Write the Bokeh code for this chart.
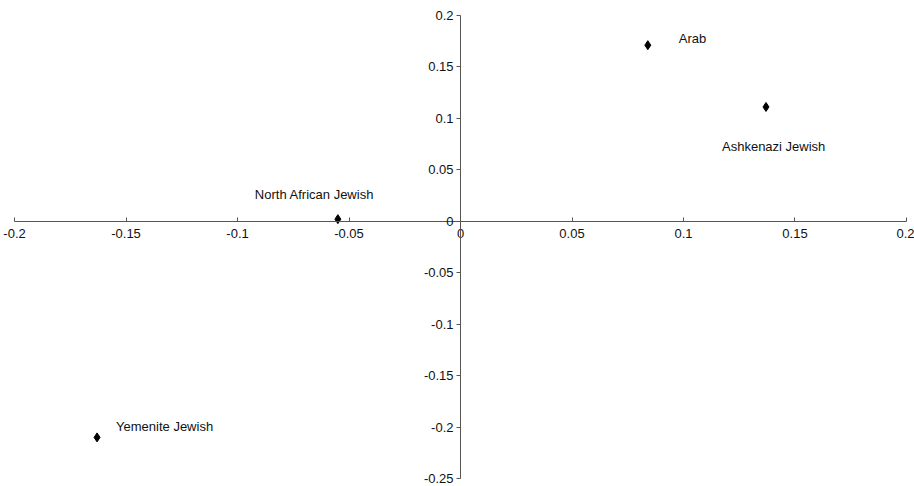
from bokeh.plotting import figure
from bokeh.models import LinearAxis, FixedTicker, ColumnDataSource, Range1d
from bokeh.embed import file_html
from bokeh.resources import INLINE
from bokeh.core.properties import value

# ---- data ----
groups = ["Arab", "Ashkenazi Jewish", "North African Jewish", "Yemenite Jewish"]
pc1 = [0.084, 0.137, -0.055, -0.163]
pc2 = [0.171, 0.111, 0.002, -0.210]

x_ticks = [-0.2, -0.15, -0.1, -0.05, 0, 0.05, 0.1, 0.15, 0.2]
x_tick_labels = ["-0.2", "-0.15", "-0.1", "-0.05", "0", "0.05", "0.1", "0.15", "0.2"]
y_ticks = [-0.25, -0.2, -0.15, -0.1, -0.05, 0, 0.05, 0.1, 0.15, 0.2]
y_tick_labels = ["-0.25", "-0.2", "-0.15", "-0.1", "-0.05", "0", "0.05", "0.1", "0.15", "0.2"]

# label placement (screen px offsets, styling only)
label_dx = [31, -44, -83, 19]
label_dy = [-7, 40, -25, -11]

FONT = "Liberation Sans"

p = figure(width=914, height=486, output_backend="svg", toolbar_location=None,
           x_range=Range1d(-0.2063, 0.2036), y_range=Range1d(-0.2577, 0.2144),
           x_axis_location=None, y_axis_location=None,
           min_border_left=0, min_border_right=0, min_border_top=0, min_border_bottom=0)
p.outline_line_color = None
p.grid.visible = False
p.background_fill_color = "white"
p.border_fill_color = "white"

AX = "#555555"
xa = LinearAxis(fixed_location=0, ticker=FixedTicker(ticks=x_ticks), bounds=(-0.2, 0.2))
xa.major_label_overrides = {t: l for t, l in zip(x_ticks, x_tick_labels)}
xa.axis_line_color = AX
xa.major_tick_line_color = AX
xa.minor_tick_line_color = None
xa.major_tick_in = 4
xa.major_tick_out = 0
xa.major_label_standoff = 8
xa.major_label_text_font = FONT
xa.major_label_text_font_size = "13px"
xa.major_label_text_color = "#111111"
p.add_layout(xa, "below")

ya = LinearAxis(fixed_location=0, ticker=FixedTicker(ticks=y_ticks), bounds=(-0.25, 0.2))
ya.major_label_overrides = {t: l for t, l in zip(y_ticks, y_tick_labels)}
ya.axis_line_color = AX
ya.major_tick_line_color = AX
ya.minor_tick_line_color = None
ya.major_tick_in = 0
ya.major_tick_out = 4
ya.major_label_standoff = 3
ya.major_label_text_font = FONT
ya.major_label_text_font_size = "13px"
ya.major_label_text_color = "#111111"
p.add_layout(ya, "left")

src = ColumnDataSource(dict(x=pc1, y=pc2, name=groups, dx=label_dx, dy=label_dy))
p.scatter("x", "y", source=src, marker="diamond", size=9, color="black")
p.text("x", "y", text="name", source=src, x_offset="dx", y_offset="dy",
       text_font=value(FONT), text_font_size="13px", text_color="#111111",
       text_baseline="middle", text_align="left")

open("out.html", "w").write(file_html(p, INLINE))
